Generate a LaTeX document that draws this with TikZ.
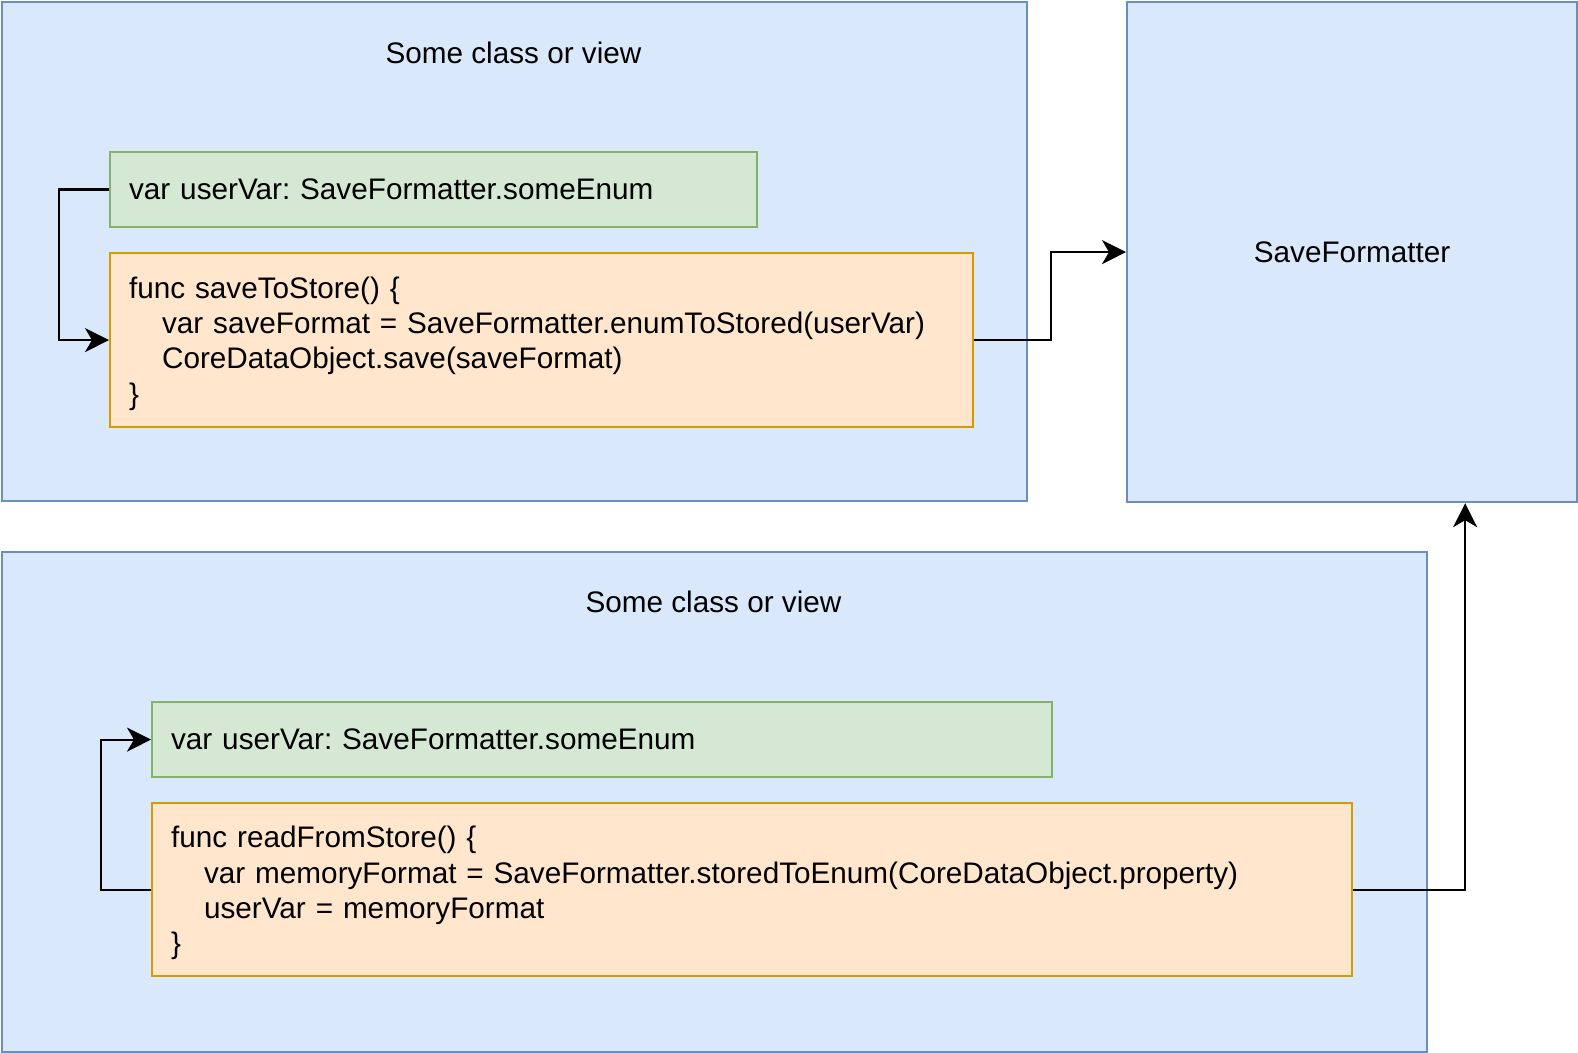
\documentclass[tikz,border=0pt]{standalone}
\usepackage{fontspec}
\setmainfont{Liberation Sans}
\usepackage{tikz}
\usepackage{xcolor}
\usetikzlibrary{arrows.meta,calc}
\frenchspacing

\definecolor{viewfill}{HTML}{DAE8FC}
\definecolor{viewline}{HTML}{6C8EBF}
\definecolor{varfill}{HTML}{D5E8D4}
\definecolor{varline}{HTML}{82B366}
\definecolor{funcfill}{HTML}{FFE6CC}
\definecolor{funcline}{HTML}{D79B00}

\tikzset{
  viewbox/.style={draw=viewline, fill=viewfill, line width=1.1pt, anchor=north west, inner sep=0pt},
  varbox/.style={draw=varline, fill=varfill, line width=1.1pt, anchor=north west, inner xsep=9.5pt, align=left},
  funcbox/.style={draw=funcline, fill=funcfill, line width=1.1pt, anchor=north west, inner xsep=9.5pt, align=left},
  link/.style={line width=1.1pt, -{Stealth[length=12pt, width=12pt, inset=3.5pt]}}
}
\newcommand{\ind}{\hspace*{16.5pt}}
\newcommand{\topline}{\rule{0pt}{14.3pt}}

\begin{document}
\begin{tikzpicture}[x=0.5pt, y=-0.5pt, every node/.style={font=\fontsize{14.85pt}{17.65pt}\selectfont}]
      \useasboundingbox (0,0) rectangle (1578,1053);
      % top class
      \node[viewbox, minimum width=512.5pt, minimum height=249.5pt] (topView) at (1,1) {};
      \node (topTitle) at (513.5,52.5) {Some class or view};
      \node[varbox, text width=304.5pt, minimum height=37.5pt] (topVar) at (109,151) {var userVar: SaveFormatter.someEnum};
      \node[funcbox, text width=412.5pt, minimum height=87pt] (saveFunc) at (109,252)
        {\topline func saveToStore() \{\\
         \ind var saveFormat = SaveFormatter.enumToStored(userVar)\\
         \ind CoreDataObject.save(saveFormat)\\
         \}};
      % formatter
      \node[viewbox, minimum width=225pt, minimum height=250pt] (saveFmt) at (1126,1) {};
      \node (fmtLabel) at (saveFmt.center) {SaveFormatter};
      % bottom class
      \node[viewbox, minimum width=712.5pt, minimum height=250pt] (bottomView) at (1,551) {};
      \node (bottomTitle) at (713.5,602) {Some class or view};
      \node[varbox, text width=431pt, minimum height=37.5pt] (bottomVar) at (151,701) {var userVar: SaveFormatter.someEnum};
      \node[funcbox, text width=581pt, minimum height=86.5pt] (readFunc) at (151,802)
        {\topline func readFromStore() \{\\
         \ind var memoryFormat = SaveFormatter.storedToEnum(CoreDataObject.property)\\
         \ind userVar = memoryFormat\\
         \}};
      \coordinate (fmtIn) at ($(saveFmt.south west)!0.75!(saveFmt.south east)$);
      % connectors
      \draw[link] (topVar.west) -- ++(-50,0) |- (saveFunc.west);
      \draw[link] (saveFunc.east) -- ++(77,0) |- (saveFmt.west);
      \draw[link] (readFunc.west) -- ++(-50,0) |- (bottomVar.west);
      \draw[link] (readFunc.east) -| (fmtIn);
    \end{tikzpicture}
\end{document}
